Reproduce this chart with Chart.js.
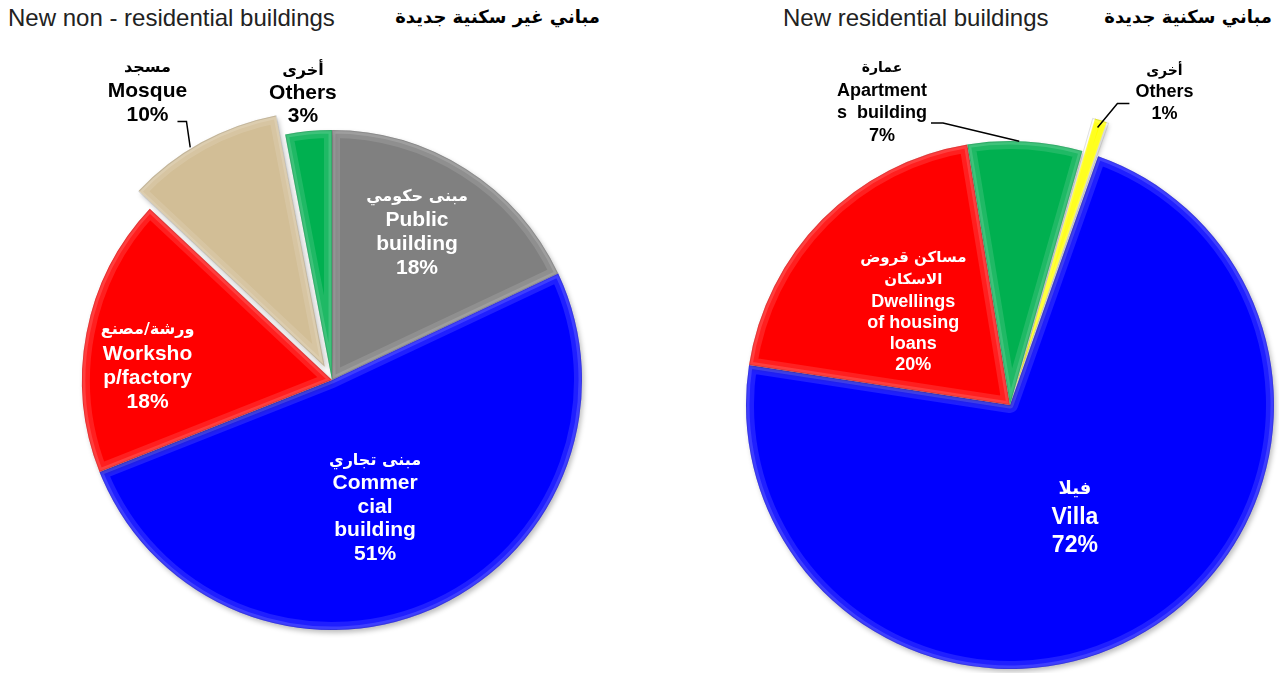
<!DOCTYPE html>
<html>
<head>
<meta charset="utf-8">
<script src="https://cdn.jsdelivr.net/npm/chart.js@4.4.1/dist/chart.umd.min.js"></script>
<style>
  body { margin: 0; background: #fff; width: 1279px; height: 673px; overflow: hidden; position: relative; font-family: 'Liberation Sans', Arial, sans-serif; }
  canvas { position: absolute; top: 0; }
  .t { position: absolute; top: 4px; font-size: 24px; color: #222; white-space: nowrap; }
  .ar { font-family: 'DejaVu Sans', sans-serif; font-weight: bold; color: #000; font-size: 18px; top: 6px; direction: rtl; }
</style>
</head>
<body>
<div class="t" style="left:8px">New non - residential buildings</div>
<div class="t ar" style="right:679px">مباني غير سكنية جديدة</div>
<div class="t" style="left:783px">New residential buildings</div>
<div class="t ar" style="right:7px">مباني سكنية جديدة</div>
<canvas id="nonRes" width="664" height="673" style="left:0"></canvas>
<canvas id="res" width="538" height="673" style="left:741px"></canvas>
<script>
// non residential
const nonResAr = [['مبنى حكومي'], ['مبنى تجاري'], ['ورشة/مصنع'], ['مسجد'], ['أخرى']];
const nonResEn = [['Public', 'building'], ['Commer', 'cial', 'building'], ['Worksho', 'p/factory'], ['Mosque'], ['Others']];
const nonResValues = [18, 51, 18, 10, 3];
const nonResColors = ['#808080', '#0000ff', '#ff0000', '#d2be96', '#00b050'];

// residential
const resAr = [['فيلا'], ['مساكن قروض', 'الاسكان'], ['عمارة'], ['أخرى']];
const resEn = [['Villa'], ['Dwellings', 'of housing', 'loans'], ['Apartment', 's  building'], ['Others']];
const resValues = [72, 20, 7, 1];
const resColors = ['#0000ff', '#ff0000', '#00b050', '#ffff00'];

const AR_FONT = '"DejaVu Sans", sans-serif';
const EN_FONT = '"Liberation Sans", Arial, sans-serif';

function arcShift(arc) {
  const mid = (arc.startAngle + arc.endAngle) / 2;
  const s = (arc.options.offset || 0) / 4;
  return { x: arc.x + Math.cos(mid) * s, y: arc.y + Math.sin(mid) * s, s: s };
}

// soft shadow + bevel look
const bevel = {
  id: 'bevel',
  beforeDatasetsDraw(chart) {
    const ctx = chart.ctx;
    ctx.save();
    ctx.shadowColor = 'rgba(0,0,0,0.25)';
    ctx.shadowBlur = 5;
    ctx.shadowOffsetX = 2;
    ctx.shadowOffsetY = 3;
  },
  afterDatasetsDraw(chart) {
    const ctx = chart.ctx;
    ctx.restore();
    chart.getDatasetMeta(0).data.forEach(arc => {
      const c = arcShift(arc);
      const circ = arc.endAngle - arc.startAngle;
      const r = arc.outerRadius + c.s * (1 - Math.sin(Math.min(Math.PI, circ)));
      ctx.save();
      ctx.beginPath();
      ctx.moveTo(c.x, c.y);
      ctx.arc(c.x, c.y, r, arc.startAngle, arc.endAngle);
      ctx.closePath();
      ctx.clip();
      ctx.lineJoin = 'round';
      ctx.strokeStyle = 'rgba(255,255,255,0.12)';
      ctx.lineWidth = 16;
      ctx.stroke();
      ctx.strokeStyle = 'rgba(255,255,255,0.14)';
      ctx.lineWidth = 7;
      ctx.stroke();
      ctx.strokeStyle = 'rgba(0,0,0,0.12)';
      ctx.lineWidth = 2;
      ctx.stroke();
      ctx.restore();
    });
  }
};

const sliceLabels = {
  id: 'sliceLabels',
  afterDatasetsDraw(chart, args, opts) {
    const ctx = chart.ctx;
    const meta = chart.getDatasetMeta(0);
    const ds = chart.data.datasets[0];
    meta.data.forEach((arc, i) => {
      const p = opts.place[i];
      const R = arc.outerRadius;
      const a = (p.angle - 90) * Math.PI / 180;
      const x = arc.x + Math.cos(a) * R * p.r;
      const y = arc.y + Math.sin(a) * R * p.r;
      const lines = [];
      opts.arabic[i].forEach(t => lines.push({ t: t, font: 'bold ' + p.ar + 'px ' + AR_FONT, h: p.arLh }));
      opts.english[i].forEach(t => lines.push({ t: t, font: 'bold ' + p.size + 'px ' + EN_FONT, h: p.lh }));
      lines.push({ t: ds.data[i] + '%', font: 'bold ' + p.size + 'px ' + EN_FONT, h: p.lh });
      const total = lines.reduce((s, l) => s + l.h, 0);
      let ly = y - total / 2;
      ctx.save();
      ctx.fillStyle = p.color;
      ctx.textAlign = 'center';
      ctx.textBaseline = 'middle';
      lines.forEach(l => {
        ctx.font = l.font;
        ctx.fillText(l.t, x, ly + l.h / 2);
        ly += l.h;
      });
      if (p.leader) {
        const c = arcShift(arc);
        const la = (p.leader.angle - 90) * Math.PI / 180;
        const er = R + c.s * 0.5;
        ctx.strokeStyle = '#000';
        ctx.lineWidth = 1.5;
        ctx.beginPath();
        ctx.moveTo(x + p.leader.from[0], y + p.leader.from[1]);
        ctx.lineTo(x + p.leader.elbow[0], y + p.leader.elbow[1]);
        ctx.lineTo(c.x + Math.cos(la) * er, c.y + Math.sin(la) * er);
        ctx.stroke();
      }
      ctx.restore();
    });
  }
};

function makePie(id, values, colors, offsets, rotation, radius, padTop, labelOpts) {
  new Chart(document.getElementById(id), {
    type: 'pie',
    data: {
      labels: labelOpts.english.map(e => e.join(' ')),
      datasets: [{
        data: values,
        backgroundColor: colors,
        borderWidth: 0,
        offset: offsets,
        clip: false
      }]
    },
    options: {
      responsive: false,
      animation: false,
      rotation: rotation,
      radius: radius,
      layout: { padding: { top: padTop, bottom: 0, left: 0, right: 0 } },
      plugins: {
        legend: { display: false },
        tooltip: { enabled: false },
        sliceLabels: labelOpts
      }
    },
    plugins: [bevel, sliceLabels]
  });
}

makePie('nonRes', nonResValues, nonResColors, [0, 0, 0, 60, 0], 0, 250, 87, {
  arabic: nonResAr,
  english: nonResEn,
  place: [
    { angle: 30, r: 0.68, size: 21, ar: 16, arLh: 22, lh: 24, color: '#fff' },
    { angle: 161.4, r: 0.54, size: 21, ar: 16, arLh: 22, lh: 23.5, color: '#fff' },
    { angle: 274.4, r: 0.74, size: 21, ar: 16, arLh: 25, lh: 24, color: '#fff' },
    { angle: 327.4, r: 1.37, size: 21, ar: 16, arLh: 24, lh: 24, color: '#000',
      leader: { from: [30, 30], elbow: [39, 30], angle: -31.5 } },
    { angle: -5.8, r: 1.15, size: 21, ar: 16, arLh: 22, lh: 23, color: '#000' }
  ]
});

makePie('res', resValues, resColors, [0, 0, 0, 72], 19.5, 264, 137, {
  arabic: resAr,
  english: resEn,
  place: [
    { angle: 149.9, r: 0.49, size: 23, ar: 18, arLh: 30, lh: 28, color: '#fff' },
    { angle: 314.1, r: 0.51, size: 18, ar: 15, arLh: 22, lh: 21, color: '#fff' },
    { angle: -22.9, r: 1.246, size: 18, ar: 14, arLh: 23, lh: 22.5, color: '#000',
      leader: { from: [49, 21], elbow: [61, 21], angle: 2 } },
    { angle: 26.3, r: 1.32, size: 18, ar: 14, arLh: 21, lh: 21.5, color: '#000',
      leader: { from: [-35, 11], elbow: [-47, 11], angle: 17.5 } }
  ]
});
</script>
</body>
</html>
